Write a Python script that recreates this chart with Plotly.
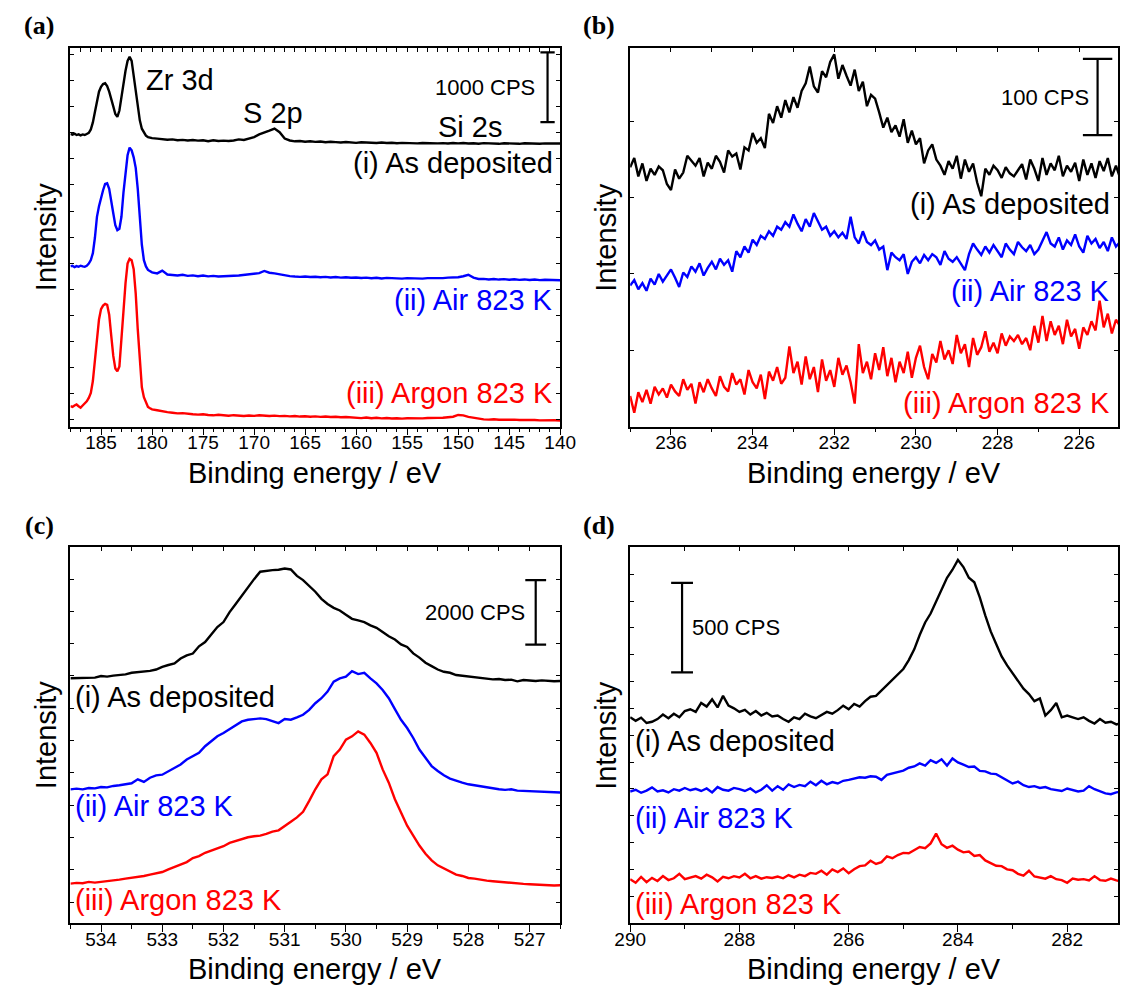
import numpy as np
import plotly.graph_objects as go

# ---------------- data (CPS) ----------------
# Panel (a): Zr 3d / S 2p / Si 2s survey; core region 188-180 eV (0.2 eV), tail 179.5-140 eV (0.5 eV)
A_E_CORE = (188.0, 180.0)
A_E_TAIL = (179.5, 140.0)
A_BLACK_CORE = [4185, 4175, 4190, 4170, 4180, 4165, 4178, 4170, 4185, 4200,
                4250, 4350, 4500, 4660, 4790, 4860, 4900, 4910, 4870, 4790,
                4700, 4580, 4470, 4430, 4520, 4720, 4910, 5090, 5230, 5290,
                5230, 5030, 4820, 4600, 4380, 4260, 4200, 4160, 4140, 4130,
                4125]
A_BLACK_TAIL = [4118, 4110, 4102, 4108, 4096, 4100, 4092, 4098, 4090, 4094,
                4082, 4095, 4085, 4090, 4084, 4092, 4108, 4100, 4118, 4140,
                4178, 4200, 4232, 4262, 4210, 4120, 4092, 4080, 4084, 4074,
                4080, 4072, 4078, 4066, 4074, 4068, 4062, 4070, 4064, 4058,
                4066, 4060, 4064, 4056, 4062, 4055, 4060, 4052, 4058, 4054,
                4060, 4050, 4056, 4052, 4058, 4050, 4054, 4048, 4055, 4050,
                4056, 4048, 4052, 4046, 4054, 4048, 4050, 4044, 4052, 4046,
                4050, 4044, 4052, 4046, 4050, 4044, 4050, 4046, 4052, 4048]
A_BLUE_CORE = [2290, 2300, 2280, 2295, 2285, 2300, 2290, 2285, 2300, 2330,
               2380, 2480, 2700, 3000, 3150, 3290, 3380, 3470, 3480, 3400,
               3250, 3050, 2880, 2810, 2830, 3000, 3350, 3650, 3880, 3990,
               3950, 3850, 3700, 3400, 3000, 2600, 2380, 2290, 2240, 2220,
               2205]
A_BLUE_TAIL = [2190, 2230, 2175, 2168, 2160, 2170, 2155, 2162, 2150, 2160,
               2148, 2155, 2145, 2150, 2148, 2156, 2160, 2170, 2178, 2188,
               2195, 2225, 2200, 2190, 2175, 2160, 2152, 2145, 2140, 2146,
               2138, 2142, 2135, 2140, 2132, 2138, 2130, 2136, 2128, 2132,
               2125, 2130, 2122, 2128, 2118, 2126, 2120, 2124, 2116, 2122,
               2118, 2124, 2116, 2122, 2120, 2126, 2122, 2130, 2130, 2135,
               2150, 2170, 2130, 2110, 2112, 2104, 2110, 2102, 2108, 2100,
               2106, 2098, 2104, 2096, 2102, 2094, 2100, 2094, 2098, 2092]
A_RED_CORE = [290, 280, 300, 315, 290, 270, 300, 330, 360, 410,
              480, 650, 900, 1240, 1530, 1680, 1730, 1755, 1740, 1600,
              1300, 1010, 830, 790, 860, 1200, 1650, 2050, 2330, 2400,
              2380, 2250, 1900, 1390, 900, 560, 420, 340, 280, 260,
              245]
A_RED_TAIL = [232, 215, 205, 196, 188, 192, 180, 176, 170, 176,
              165, 160, 168, 158, 154, 162, 155, 150, 158, 152,
              160, 154, 150, 156, 148, 152, 145, 150, 142, 146,
              140, 145, 138, 142, 135, 140, 132, 136, 130, 126,
              120, 128, 118, 124, 116, 122, 114, 118, 112, 118,
              115, 120, 116, 122, 118, 124, 126, 132, 140, 165,
              160, 138, 125, 108, 102, 98, 104, 96, 100, 94,
              98, 92, 96, 90, 94, 88, 92, 86, 90, 84]

# Panel (b): Zr region 237-225 eV, 0.1 eV steps
B_E = (237.0, 225.0)
B_BLACK = [340, 352, 328, 345, 322, 338, 330, 341, 336, 318,
           310, 337, 325, 333, 355, 348, 342, 352, 328, 346,
           338, 355, 347, 333, 362, 354, 358, 337, 366, 362,
           385, 372, 378, 365, 410, 398, 420, 405, 428, 412,
           432, 418, 440, 450, 472, 446, 438, 466, 458, 478,
           488, 456, 474, 460, 447, 468, 440, 452, 420, 435,
           430, 412, 392, 405, 386, 395, 380, 403, 372, 388,
           370, 378, 345, 362, 370, 350, 342, 330, 348, 338,
           355, 325, 350, 334, 345, 320, 302, 338, 330, 342,
           336, 326, 340, 332, 328, 336, 344, 324, 350, 338,
           322, 352, 330, 345, 336, 355, 328, 342, 334, 346,
           322, 350, 330, 345, 326, 348, 335, 352, 328, 342,
           326]
B_BLUE = [185, 192, 180, 188, 178, 194, 186, 200, 190, 198,
          206, 195, 183, 202, 196, 210, 203, 214, 198, 208,
          216, 206, 220, 212, 218, 203, 230, 222, 236, 228,
          245, 238, 250, 246, 256, 250, 262, 258, 268, 262,
          278, 266, 256, 272, 262, 280, 270, 258, 262, 250,
          256, 248, 254, 246, 275, 248, 240, 256, 242, 238,
          244, 232, 236, 205, 228, 222, 218, 226, 200, 216,
          222, 214, 225, 218, 226, 222, 212, 230, 220, 216,
          222, 214, 205, 226, 240, 232, 225, 236, 228, 238,
          230, 222, 240, 232, 226, 242, 235, 230, 238, 226,
          232, 244, 255, 240, 236, 248, 232, 244, 238, 252,
          236, 228, 250, 240, 246, 234, 242, 230, 248, 236,
          242]
B_RED = [40, 18, 45, 32, 48, 30, 52, 42, 50, 38,
         55, 46, 40, 62, 48, 56, 30, 58, 45, 62,
         50, 40, 66, 52, 46, 70, 55, 62, 42, 74,
         58, 50, 68, 36, 72, 60, 78, 56, 64, 105,
         70, 85, 55, 92, 62, 78, 45, 88, 60, 74,
         52, 90, 68, 80, 58, 30, 108, 70, 85, 62,
         96, 74, 104, 66, 90, 58, 85, 70, 98, 64,
         90, 106, 78, 62, 95, 84, 112, 88, 100, 82,
         120, 96, 108, 78, 116, 94, 104, 125, 98, 110,
         96, 122, 106, 118, 112, 120, 108, 116, 100, 132,
         110, 145, 112, 138, 120, 132, 108, 140, 118, 128,
         102, 130, 120, 138, 126, 165, 130, 148, 122, 140,
         132]

# Panel (c): O 1s 534.5-526.5 eV, 0.1 eV steps
C_E = (534.5, 526.5)
C_BLACK = [7580, 7590, 7580, 7610, 7600, 7650, 7630, 7660, 7680, 7700,
           7750, 7770, 7780, 7810, 7850, 7935, 7990, 8040, 8190, 8290,
           8345, 8570, 8700, 8940, 9165, 9320, 9630, 9880, 10140, 10370,
           10650, 10880, 10910, 10930, 10940, 10980, 10950, 10750, 10620, 10450,
           10260, 10040, 9880, 9760, 9680, 9550, 9420, 9370, 9320, 9220,
           9140, 9010, 8880, 8780, 8630, 8550, 8350, 8220, 8060, 7955,
           7850, 7780, 7750, 7680, 7660, 7630, 7600, 7590, 7570, 7545,
           7555, 7525, 7535, 7485, 7525, 7505, 7495, 7515, 7495, 7485,
           7495]
C_BLUE = [4140, 4160, 4140, 4180, 4170, 4210, 4200, 4245, 4265, 4296,
          4327, 4450, 4368, 4500, 4573, 4593, 4706, 4808, 4911, 5064,
          5167, 5270, 5475, 5628, 5782, 5884, 6008, 6141, 6243, 6295,
          6315, 6336, 6315, 6243, 6192, 6315, 6295, 6366, 6449, 6602,
          6807, 6961, 7166, 7473, 7576, 7627, 7801, 7709, 7750, 7576,
          7422, 7217, 6961, 6623, 6295, 6038, 5730, 5372, 5116, 4860,
          4706, 4573, 4470, 4398, 4347, 4296, 4265, 4214, 4194, 4173,
          4142, 4122, 4142, 4101, 4091, 4091, 4070, 4081, 4060, 4040,
          4040]
C_RED = [1221, 1242, 1231, 1272, 1252, 1272, 1293, 1313, 1344, 1375,
         1395, 1416, 1457, 1498, 1529, 1580, 1662, 1734, 1806, 1887,
         2010, 2072, 2174, 2246, 2318, 2379, 2482, 2543, 2605, 2656,
         2687, 2707, 2759, 2830, 2871, 2994, 3138, 3271, 3445, 3784,
         4142, 4450, 4603, 5167, 5372, 5680, 5782, 5936, 5833, 5577,
         5270, 4757, 4347, 3835, 3425, 3015, 2707, 2399, 2143, 1938,
         1785, 1682, 1580, 1498, 1457, 1395, 1375, 1334, 1313, 1293,
         1272, 1252, 1231, 1221, 1211, 1201, 1190, 1170, 1180, 1160,
         1170]

# Panel (d): C 1s 290-281 eV, 0.1 eV steps
D_E = (290.0, 281.0)
D_BLACK = [1150, 1130, 1148, 1118, 1125, 1140, 1165, 1145, 1170, 1150,
           1185, 1195, 1180, 1230, 1210, 1250, 1205, 1270, 1215, 1200,
           1180, 1192, 1165, 1185, 1160, 1175, 1155, 1160, 1140, 1125,
           1150, 1140, 1170, 1155, 1145, 1165, 1180, 1170, 1190, 1215,
           1195, 1225, 1210, 1240, 1265, 1270, 1300, 1330, 1365, 1390,
           1420, 1470, 1530, 1610, 1680, 1730, 1800, 1860, 1930, 1975,
           2030, 1990, 1930, 1905, 1820, 1720, 1630, 1560, 1490, 1440,
           1395, 1350, 1310, 1280, 1240, 1255, 1160, 1190, 1230, 1150,
           1160, 1150, 1140, 1150, 1130, 1115, 1140, 1120, 1125, 1110,
           1120]
D_BLUE = [735, 745, 728, 740, 758, 735, 742, 730, 748, 740,
          755, 742, 750, 738, 752, 730, 760, 745, 740, 755,
          748, 738, 752, 730, 745, 770, 740, 765, 745, 775,
          760, 772, 765, 790, 770, 795, 775, 788, 780, 795,
          800, 808, 815, 812, 820, 818, 800, 828, 835, 845,
          852, 868, 875, 892, 880, 910, 895, 915, 880, 920,
          898, 885, 872, 875, 850, 848, 835, 832, 815, 800,
          780, 790, 770, 760, 765, 755, 760, 748, 745, 738,
          752, 742, 735, 740, 765, 748, 738, 725, 720, 730,
          735]
D_RED = [245, 225, 258, 228, 252, 235, 262, 240, 250, 275,
         245, 252, 262, 248, 270, 255, 232, 258, 250, 262,
         255, 275, 250, 262, 248, 256, 252, 260, 250, 268,
         255, 270, 262, 280, 275, 292, 270, 300, 285, 305,
         278, 300, 318, 322, 348, 330, 340, 372, 362, 380,
         392, 390, 408, 425, 418, 445, 500, 440, 420, 432,
         410, 395, 400, 375, 380, 350, 335, 320, 318, 300,
         295, 275, 265, 292, 260, 252, 248, 262, 245, 240,
         225, 248, 242, 245, 238, 262, 240, 236, 248, 238,
         230]

SERIES_NAMES = ["(i) As deposited", "(ii) Air 823 K", "(iii) Argon 823 K"]
SCALE_BAR_CPS = [1000, 100, 2000, 500]
PANEL_LABELS = ["(a)", "(b)", "(c)", "(d)"]

# ---------------- figure ----------------
W, H = 1134, 986
FONT = "Liberation Sans, Arial, sans-serif"
COLORS = ["#000000", "#0000ff", "#ff0000"]


def px(x):
    return x / W


def py(y):
    return 1 - y / H


E_A = np.concatenate([np.linspace(A_E_CORE[0], A_E_CORE[1], len(A_BLACK_CORE)),
                      np.linspace(A_E_TAIL[0], A_E_TAIL[1], len(A_BLACK_TAIL))])
panels = [
    dict(x=E_A, ys=[A_BLACK_CORE + A_BLACK_TAIL, A_BLUE_CORE + A_BLUE_TAIL, A_RED_CORE + A_RED_TAIL]),
    dict(x=np.linspace(B_E[0], B_E[1], len(B_BLACK)), ys=[B_BLACK, B_BLUE, B_RED]),
    dict(x=np.linspace(C_E[0], C_E[1], len(C_BLACK)), ys=[C_BLACK, C_BLUE, C_RED]),
    dict(x=np.linspace(D_E[0], D_E[1], len(D_BLACK)), ys=[D_BLACK, D_BLUE, D_RED]),
]

# layout geometry (pixels)
geo = [
    dict(x0=56, x1=560, y0=47.5, y1=426.5, xr=[188, 140], yr=[0, 5422], dt=5, mdt=1, ydt=372, y0t=107),
    dict(x0=632, x1=1134, y0=47.5, y1=426.5, xr=[237, 225.05], yr=[0, 497], dt=2, mdt=1, ydt=100, y0t=0),
    dict(x0=56, x1=560, y0=547, y1=923, xr=[534.5, 526.5], yr=[0, 11645], dt=1, mdt=0.5, ydt=1000, y0t=650),
    dict(x0=632, x1=1134, y0=547, y1=923, xr=[290, 281.07], yr=[0, 2102], dt=2, mdt=1, ydt=150, y0t=0),
]

fig = go.Figure()
layout = dict(width=W, height=H, margin=dict(l=0, r=0, t=0, b=0),
              paper_bgcolor="white", plot_bgcolor="white", showlegend=False,
              font=dict(family=FONT, color="black"))

for i, (p, g) in enumerate(zip(panels, geo)):
    n = i + 1
    xa = "x" if n == 1 else f"x{n}"
    ya = "y" if n == 1 else f"y{n}"
    xtop = f"x{n + 4}"
    for ys, c in zip(p["ys"], COLORS):
        fig.add_trace(go.Scatter(x=p["x"], y=ys, mode="lines", xaxis=xa, yaxis=ya,
                                 line=dict(color=c, width=2.4), hoverinfo="skip"))
    fig.add_trace(go.Scatter(x=[], y=[], xaxis=xtop, yaxis=ya, hoverinfo="skip"))
    dom_x = [px(g["x0"]), px(g["x1"])]
    dom_y = [py(g["y1"]), py(g["y0"])]
    kx = "xaxis" if n == 1 else f"xaxis{n}"
    ky = "yaxis" if n == 1 else f"yaxis{n}"
    layout[kx] = dict(domain=dom_x, range=g["xr"], anchor=ya, showgrid=False, zeroline=False,
                      showline=True, linecolor="black", linewidth=1.5, mirror=True,
                      ticks="outside", ticklen=7, tickwidth=1.3, tickcolor="black",
                      ticklabelstandoff=-9,
                      tick0=0, dtick=g["dt"], tickfont=dict(size=19, family=FONT),
                      minor=dict(ticks="outside", ticklen=4, tickwidth=1.3, tickcolor="black",
                                 dtick=g["mdt"], tick0=0, showgrid=False))
    layout[f"xaxis{n + 4}"] = dict(overlaying=xa, side="top", anchor=ya, range=g["xr"],
                                   showgrid=False, zeroline=False, showline=False,
                                   ticks="inside", ticklen=4, tickwidth=1.2, tickcolor="black",
                                   tick0=0, dtick=g["mdt"], showticklabels=False)
    layout[ky] = dict(domain=dom_y, range=g["yr"], anchor=xa, showgrid=False, zeroline=False,
                      showline=True, linecolor="black", linewidth=1.5, mirror="ticks",
                      ticks="inside", ticklen=4, tickwidth=1.2, tickcolor="black",
                      tick0=g["y0t"], dtick=g["ydt"], showticklabels=False)

fig.update_layout(**layout)

ann = []
shapes = []


def add_text(text, x, y, xref, yref, size, xanchor="center", color="black", angle=0, family=FONT):
    ann.append(dict(text=text, x=x, y=y, xref=xref, yref=yref, showarrow=False,
                    xanchor=xanchor, yanchor="middle", textangle=angle,
                    font=dict(size=size, color=color, family=family)))


# axis titles and panel letters
for g, lab in zip(geo, PANEL_LABELS):
    cx = 308 if g["x0"] < 600 else 883
    add_text("Binding energy / eV", px(cx), py(g["y1"] + 46), "paper", "paper", 29)
    add_text("Intensity", px(g["x0"] - 25), py((g["y0"] + g["y1"]) / 2), "paper", "paper", 29, angle=-90)
    add_text("<b>" + lab + "</b>", px(g["x0"] - 32), py(g["y0"] - 22), "paper", "paper", 26,
             family="Liberation Serif, Times New Roman, serif")

# panel (a) annotations
add_text("Zr 3d", 180.8, 4958, "x", "y", 29, xanchor="left")
add_text("S 2p", 168.1, 4486, "x", "y", 29)
add_text("Si 2s", 148.8, 4290, "x", "y", 29)
for s, yv, c in zip(SERIES_NAMES, [3771, 1810, 479], COLORS):
    add_text(s, 140.55, yv, "x", "y", 29, xanchor="right", color=c)
# panel (b)
for s, yv, c in zip(SERIES_NAMES, [292, 178, 31], COLORS):
    add_text(s, 225.2, yv, "x2", "y2", 29, xanchor="right", color=c)
# panel (c)
for s, yv, c in zip(SERIES_NAMES, [6992, 3630, 708], COLORS):
    add_text(s, 534.45, yv, "x3", "y3", 29, xanchor="left", color=c)
# panel (d)
for s, yv, c in zip(SERIES_NAMES, [1017, 589, 105], COLORS):
    add_text(s, 289.95, yv, "x4", "y4", 29, xanchor="left", color=c)

# scale bars
bars = [
    dict(xr="x", yr="y", xc=141.24, y0=4353, cap=0.7, lx=142.3, lanchor="right"),
    dict(xr="x2", yr="y2", xc=225.55, y0=382, cap=0.36, lx=225.71, lanchor="right"),
    dict(xr="x3", yr="y3", xc=526.9, y0=8620, cap=0.17, lx=527.05, lanchor="right"),
    dict(xr="x4", yr="y4", xc=289.05, y0=1401, cap=0.2, lx=288.9, lanchor="left"),
]
for b, v in zip(bars, SCALE_BAR_CPS):
    y1 = b["y0"] + v
    ln = dict(color="black", width=2.2)
    shapes.append(dict(type="line", xref=b["xr"], yref=b["yr"], x0=b["xc"], x1=b["xc"], y0=b["y0"], y1=y1, line=ln))
    for yy in (b["y0"], y1):
        shapes.append(dict(type="line", xref=b["xr"], yref=b["yr"], x0=b["xc"] - b["cap"], x1=b["xc"] + b["cap"],
                           y0=yy, y1=yy, line=ln))
    add_text(f"{v} CPS", b["lx"], b["y0"] + v / 2, b["xr"], b["yr"], 22, xanchor=b["lanchor"])

fig.update_layout(annotations=ann, shapes=shapes)
fig.write_html("out.html", config={"displayModeBar": False},
               post_script="document.body.style.margin='0px';")
